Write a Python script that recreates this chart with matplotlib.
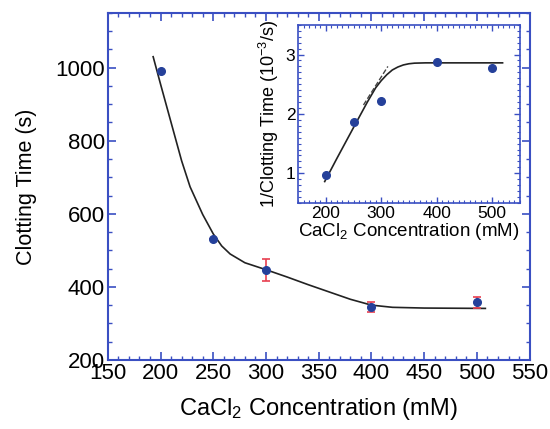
import matplotlib.pyplot as plt
from matplotlib.ticker import MultipleLocator

plt.rcParams['font.family'] = ['Liberation Sans', 'DejaVu Sans']
plt.rcParams['mathtext.default'] = 'regular'

# main panel data
conc = [200, 250, 300, 400, 500]
clot_time = [992, 531, 445, 345, 358]
clot_err = [0, 0, 30, 14, 15]

fit_x = [193, 200, 210, 220, 228, 240, 250, 258, 266, 280, 300, 320, 340,
         354, 380, 400, 420, 450, 508]
fit_y = [1030, 955, 850, 745, 674, 598, 545, 512, 490, 466, 447, 427, 406,
         392, 366, 350, 344, 342, 341]

# inset data
inv_time = [0.97, 1.86, 2.21, 2.87, 2.77]
inv_fit_x = [198, 220, 250, 275, 290, 300, 310, 320, 330, 340, 350, 360, 380, 519]
inv_fit_y = [0.86, 1.25, 1.77, 2.20, 2.44, 2.56, 2.66, 2.74, 2.79, 2.825, 2.845,
             2.855, 2.86, 2.86]
dash_x = [268, 312]
dash_y = [2.15, 2.80]

blue = '#3a4fc2'
dot = '#25409a'
red = '#e84050'

fig = plt.figure(figsize=(5.5, 4.29), dpi=100)
ax = fig.add_axes([0.196, 0.161, 0.767, 0.809])
ax.errorbar(conc, clot_time, yerr=clot_err, fmt='o', color=dot, ms=5.5,
            ecolor=red, elinewidth=1.2, capsize=3, capthick=1.2, zorder=3)
ax.plot(fit_x, fit_y, color='#222222', lw=1.2)
ax.set_xlim(150, 550)
ax.set_ylim(200, 1150)
ax.xaxis.set_major_locator(MultipleLocator(50))
ax.xaxis.set_minor_locator(MultipleLocator(10))
ax.yaxis.set_major_locator(MultipleLocator(200))
ax.yaxis.set_minor_locator(MultipleLocator(50))
ax.tick_params(which='both', direction='in', top=True, right=True, color=blue,
               labelsize=16, pad=2)
ax.tick_params(which='major', length=6, width=1.2)
ax.tick_params(which='minor', length=3, width=1)
for s in ax.spines.values():
    s.set_color(blue)
    s.set_linewidth(1.5)
ax.set_xlabel('CaCl$_2$ Concentration (mM)', fontsize=17, labelpad=9)
ax.set_ylabel('Clotting Time (s)', fontsize=15.5, labelpad=13)

ins = fig.add_axes([0.542, 0.527, 0.403, 0.415])
ins.plot(conc, inv_time, 'o', color=dot, ms=5.5, zorder=3)
ins.plot(inv_fit_x, inv_fit_y, color='#222222', lw=1.2)
ins.plot(dash_x, dash_y, '--', color='#444444', lw=1)
ins.set_xlim(150, 550)
ins.set_ylim(0.5, 3.5)
ins.xaxis.set_major_locator(MultipleLocator(100))
ins.xaxis.set_minor_locator(MultipleLocator(10))
ins.yaxis.set_major_locator(MultipleLocator(1))
ins.yaxis.set_minor_locator(MultipleLocator(0.1))
ins.tick_params(which='both', direction='in', top=True, right=True, color=blue,
                labelsize=12.5, pad=2)
ins.tick_params(which='major', length=4, width=1)
ins.tick_params(which='minor', length=2, width=0.8)
for s in ins.spines.values():
    s.set_color(blue)
    s.set_linewidth(1.2)
ins.set_xlabel('CaCl$_2$ Concentration (mM)', fontsize=13.5, labelpad=0)
ins.set_ylabel('1/Clotting Time (10$^{-3}$/s)', fontsize=13, labelpad=3)

fig.savefig('out.png', dpi=100)
